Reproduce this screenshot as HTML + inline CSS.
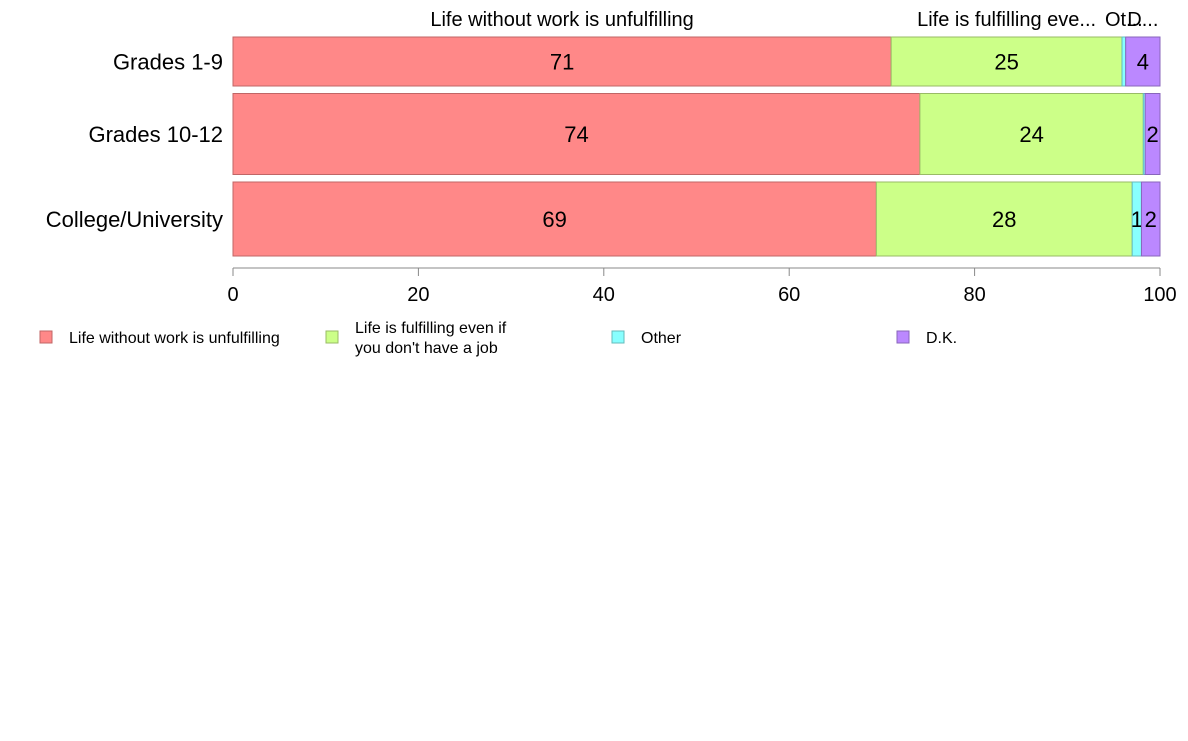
<!DOCTYPE html>
<html><head><meta charset="utf-8"><style>
body{margin:0;background:#fff;font-family:"Liberation Sans",Arial,sans-serif}
</style></head><body>
<svg id="chart" width="1188" height="736" xmlns="http://www.w3.org/2000/svg" font-family="Liberation Sans, Arial, sans-serif"></svg>
<script>
const categories = ["Grades 1-9","Grades 10-12","College/University"];
const weights = [49,81,74];
const seriesNames = ["Life without work is unfulfilling","Life is fulfilling even if you don't have a job","Other","D.K."];
const headerLabels = ["Life without work is unfulfilling","Life is fulfilling eve...","Ot...","D..."];
const s1 = [71.0,74.1,69.4];
const s2 = [24.9,24.1,27.6];
const s3 = [0.4,0.2,1.0];
const s4 = [3.7,1.6,2.0];
const ticks = [0,20,40,60,80,100];
const colors = ["#ff8888","#ccff88","#88ffff","#bb88ff"];
const strokes = ["#c06666","#99bb66","#66bbbb","#8866bb"];
const series=[s1,s2,s3,s4];
const svgEl=document.getElementById('chart');
const NS="http://www.w3.org/2000/svg";
const x0=233,x1=1160,yTop=37,yBottom=256,gap=7.5;
const xs=v=>x0+(v/100)*(x1-x0);
function mk(t,a,txt){const e=document.createElementNS(NS,t);for(const k in a)e.setAttribute(k,a[k]);if(txt!=null)e.textContent=txt;svgEl.appendChild(e);return e;}
const totalW=weights.reduce((a,b)=>a+b,0);
const avail=yBottom-yTop-gap*(categories.length-1);
let yy0=yTop;
categories.forEach((c,i)=>{
  const h=weights[i]/totalW*avail;
  let t=mk('text',{x:223,y:yy0+h/2+8,'text-anchor':'end','font-size':22,fill:'#000'},c);
  
  
  let cum=0;
  series.forEach((s,j)=>{
    const v=s[i];const xa=xs(cum),xb=xs(cum+v);
    const r=mk('rect',{x:xa,y:yy0,width:xb-xa,height:h,fill:colors[j],stroke:strokes[j],'stroke-width':1});
    
    
    const lbl=Math.round(v);
    if((xb-xa)>8 && lbl>=1){
      const tl=mk('text',{x:(xa+xb)/2,y:yy0+h/2+8,'text-anchor':'middle','font-size':22,fill:'#000'},lbl);
      
      
    }
    if(i===0){
      const th=mk('text',{x:(xa+xb)/2,y:26,'text-anchor':'middle','font-size':20,fill:'#000'},headerLabels[j]);
      
      
    }
    cum+=v;
  });
  yy0+=h+gap;
});
let ax=mk('line',{x1:x0,x2:x1,y1:268,y2:268,stroke:'#888'});


ticks.forEach(t=>{
  const tk=mk('line',{x1:xs(t),x2:xs(t),y1:268,y2:276,stroke:'#888'});
  
  
  const tl=mk('text',{x:xs(t),y:301,'text-anchor':'middle','font-size':20,fill:'#000'},t);
  
  
});
const legX=[40,326,612,897];
const legLines=[["Life without work is unfulfilling"],["Life is fulfilling even if","you don't have a job"],["Other"],["D.K."]];
legX.forEach((lx,j)=>{
  const sq=mk('rect',{x:lx,y:331,width:12,height:12,fill:colors[j],stroke:strokes[j]});
  
  
  const lines=legLines[j];
  lines.forEach((ln,k)=>{
    const ly=lines.length===1?343:333+k*20;
    const tt=mk('text',{x:lx+29,y:ly,'font-size':16,fill:'#000'},ln);
    
    
  });
});
</script>
</body></html>
